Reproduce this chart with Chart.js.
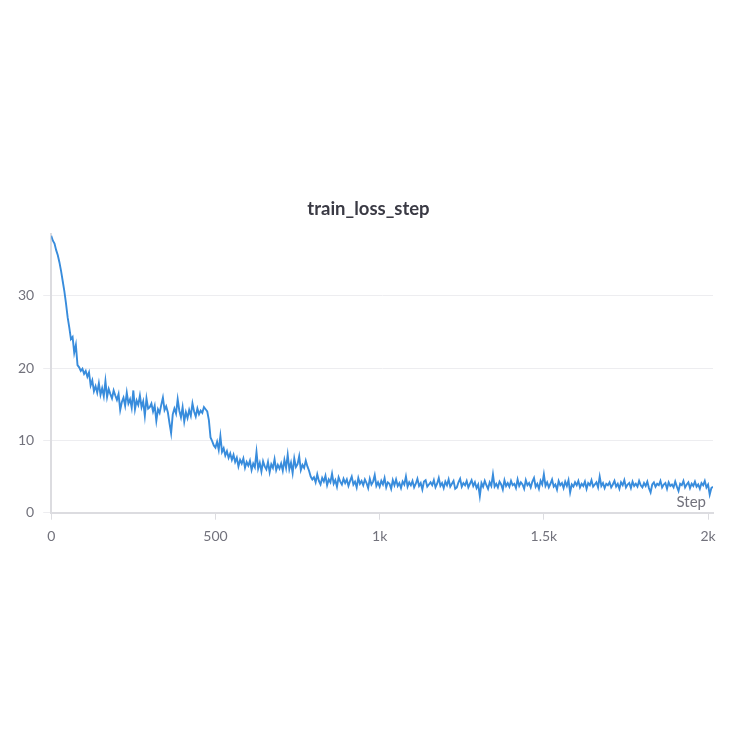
<!DOCTYPE html>
<html>
<head>
<meta charset="utf-8">
<script src="https://cdn.jsdelivr.net/npm/chart.js@4.4.1/dist/chart.umd.min.js"></script>
<style>
  html, body { margin: 0; padding: 0; background: #fff; }
  #wrap { width: 737px; height: 737px; position: relative; }
</style>
</head>
<body>
<div id="wrap"><canvas id="lossChart"></canvas></div>
<script>
// train_loss_step, one value every 5 steps
const STEP_EVERY = 5;
const lossValues = [
  38.3, 37.6, 37.2, 36.3, 35.6, 34.6, 33.4, 32.0, 30.6, 28.9, 27.0, 25.6, 24.0, 24.3, 22.1, 23.2, 20.4, 20.1, 19.6, 19.9,
  19.2, 19.6, 18.8, 19.4, 17.6, 18.3, 16.8, 17.5, 16.6, 17.9, 16.3, 17.2, 16.1, 18.2, 16.0, 17.1, 16.4, 15.8, 16.9, 16.2,
  15.6, 16.4, 14.2, 15.3, 15.9, 14.8, 16.6, 15.1, 15.7, 14.5, 16.9, 14.3, 15.5, 14.9, 16.2, 14.6, 15.4, 13.4, 15.8, 14.4,
  14.6, 15.1, 14.0, 14.8, 12.7, 14.3, 13.8, 14.9, 15.9, 14.2, 14.7, 13.9, 12.4, 11.0, 13.6, 14.4, 13.7, 15.7, 14.1, 13.2,
  14.6, 12.6, 13.9, 13.1, 14.2, 13.4, 15.1, 14.0, 13.3, 14.4, 13.6, 14.1, 13.8, 14.6, 14.3, 14.0, 12.8, 10.4, 9.9, 9.3,
  9.0, 9.8, 8.7, 10.6, 8.4, 8.9, 7.9, 8.5, 7.6, 8.2, 7.3, 8.0, 7.0, 7.6, 6.4, 7.3, 6.8, 7.5, 6.2, 7.0,
  6.5, 7.2, 5.9, 6.8, 6.3, 8.4, 6.1, 6.9, 5.7, 7.1, 6.4, 6.0, 7.0, 5.6, 6.7, 6.2, 7.4, 5.9, 6.6, 6.1,
  6.8, 5.8, 7.3, 6.2, 8.0, 6.0, 6.9, 5.5, 7.5, 6.3, 6.7, 7.8, 5.9, 6.6, 6.2, 7.2, 6.4, 5.8, 5.0, 4.6,
  4.9, 4.2, 5.3, 4.4, 3.9, 4.8, 4.3, 5.1, 3.8, 4.6, 4.2, 5.4, 4.0, 4.5, 3.6, 4.9, 4.3, 3.9, 4.7, 4.1,
  4.6, 3.7, 4.4, 5.0, 3.9, 4.3, 3.5, 4.8, 4.0, 4.4, 3.8, 4.6, 4.1, 3.4, 4.7, 3.9, 4.3, 5.2, 3.7, 4.2,
  3.6, 4.4, 3.9, 4.8, 3.5, 4.2, 4.0, 3.3, 4.5, 3.8, 4.6, 3.7, 4.1, 3.4, 4.3, 3.9, 5.0, 3.6, 4.2, 3.8,
  4.4, 3.5, 4.0, 4.7, 3.7, 4.1, 3.2, 4.3, 4.5, 3.6, 3.9, 4.2, 3.8, 4.5, 3.5, 4.0, 4.8, 3.7, 4.1, 3.4,
  4.3, 3.8, 4.6, 3.6, 4.0, 4.4, 3.3, 3.5, 4.2, 4.7, 3.6, 4.1, 3.8, 4.4, 3.5, 4.0, 4.5, 3.7, 4.2, 3.4,
  3.9, 2.3, 4.1, 3.6, 4.4, 3.8, 3.3, 4.2, 3.7, 5.3, 3.6, 4.0, 3.5, 4.3, 3.9, 3.2, 4.5, 3.7, 4.1, 3.6,
  4.4, 3.8, 4.0, 3.4, 4.6, 3.7, 4.2, 3.9, 3.3, 4.5, 3.8, 4.1, 3.5, 4.3, 4.8, 3.6, 4.0, 3.3, 4.4, 3.9,
  5.3, 3.7, 4.2, 3.5, 4.0, 4.6, 3.6, 3.9, 3.2, 4.4, 3.8, 4.1, 3.4, 4.3, 3.7, 4.5, 2.8, 3.9, 3.6, 4.2,
  3.8, 4.4, 3.5, 4.0, 3.7, 4.3, 3.3, 4.1, 3.8, 4.5, 3.6, 3.9, 4.2, 3.5, 5.0, 3.7, 4.1, 3.4, 4.0, 3.8,
  4.2, 3.5, 3.9, 4.4, 3.6, 4.0, 3.3, 4.2, 3.8, 4.5, 3.5, 3.9, 4.1, 3.4, 4.3, 3.7, 4.0, 3.6, 4.4, 3.8,
  3.5, 4.1, 3.7, 4.3, 3.4, 2.8, 3.9, 4.2, 3.6, 4.0, 3.8, 4.4, 3.5, 3.9, 4.1, 3.3, 4.2, 3.7, 3.9, 3.5,
  4.3, 3.6, 3.0, 4.0, 3.8, 4.4, 3.5, 3.9, 4.2, 3.4, 4.0, 3.7, 4.3, 3.6, 3.9, 3.3, 4.1, 3.8, 4.4, 3.5,
  3.9, 2.5, 3.4, 3.6
];

const xTickValues = [0, 500, 1000, 1500, 2000];
const xTickLabels = ['0', '500', '1k', '1.5k', '2k'];
const yTickValues = [0, 10, 20, 30];

const chartTitle = 'train_loss_step';
const lineColor = 'rgb(56, 140, 220)';
const tickColor = '#72727c';
const fontFamily = 'Lato, "Noto Sans", sans-serif';

// panel title (centred on the panel, not on the plot) and the "Step" label
const panelText = {
    id: 'panelText',
    afterDatasetsDraw(chart) {
        const { ctx, chartArea, width } = chart;
        ctx.save();
        ctx.font = 'bold 18.5px ' + fontFamily;
        ctx.fillStyle = '#3a3a44';
        ctx.textAlign = 'center';
        ctx.textBaseline = 'middle';
        ctx.fillText(chartTitle, width / 2, 209);

        ctx.font = '15px ' + fontFamily;
        ctx.fillStyle = tickColor;
        ctx.textAlign = 'right';
        ctx.textBaseline = 'bottom';
        ctx.fillText('Step', chartArea.right - 7, chartArea.bottom - 3);
        ctx.restore();
    }
};

const points = lossValues.map((v, i) => ({ x: i * STEP_EVERY, y: v }));

new Chart(document.getElementById('lossChart'), {
    type: 'line',
    data: {
        datasets: [{
            label: chartTitle,
            data: points,
            borderColor: lineColor,
            borderWidth: 1.9,
            pointRadius: 0,
            tension: 0,
            fill: false
        }]
    },
    options: {
        responsive: true,
        maintainAspectRatio: false,
        animation: false,
        layout: { padding: { top: 233.5, left: 9, right: 24, bottom: 184.5 } },
        plugins: {
            legend: { display: false },
            tooltip: { enabled: false },
            title: { display: false }
        },
        scales: {
            x: {
                type: 'linear',
                min: 0,
                max: 2015,
                afterBuildTicks: axis => { axis.ticks = xTickValues.map(v => ({ value: v })); },
                ticks: {
                    color: tickColor,
                    font: { family: fontFamily, size: 14 },
                    padding: 8,
                    maxRotation: 0,
                    callback: (val) => xTickLabels[xTickValues.indexOf(val)]
                },
                grid: { drawOnChartArea: false, color: '#dcdce0', tickLength: 7 },
                border: { color: '#dcdce0', width: 2 }
            },
            y: {
                min: 0,
                max: 38.6,
                afterBuildTicks: axis => { axis.ticks = yTickValues.map(v => ({ value: v })); },
                ticks: {
                    color: tickColor,
                    font: { family: fontFamily, size: 14 },
                    padding: 9
                },
                grid: { color: '#ededf0', tickLength: 8 },
                border: { color: '#dcdce0', width: 2 }
            }
        }
    },
    plugins: [panelText]
});
</script>
</body>
</html>
